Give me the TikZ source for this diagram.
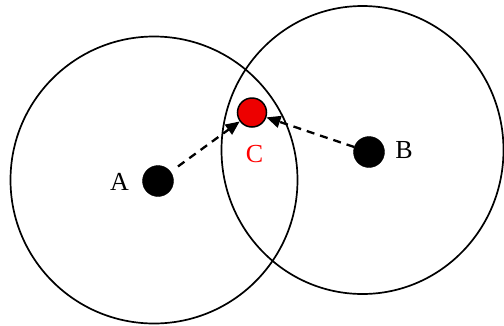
\documentclass[tikz,border=0pt]{standalone}
\usepackage{fontspec}
\setmainfont{Liberation Serif}
\usetikzlibrary{arrows.meta}
\begin{document}
\begin{tikzpicture}[x=1pt,y=-1pt,
  ring/.style={draw=black,line width=1.7pt},
  dot/.style={circle,fill=black,draw=black,inner sep=0pt,minimum size=31pt},
  reddot/.style={circle,fill=red!93!black,draw=black,line width=1.5pt,inner sep=0pt,minimum size=29pt},
  lbl/.style={font=\fontsize{26}{26}\selectfont,inner sep=0pt},
  conn/.style={line width=2.3pt,dash pattern=on 8pt off 6pt,-{Triangle[length=14pt,width=12pt]}}]
\useasboundingbox (0,0) rectangle (504,325);
\draw[ring] (154,180) circle[radius=143.5];
\draw[ring] (362.5,150) ellipse[x radius=141,y radius=144];
\node[dot] (A) at (158,181) {};
\node[dot] (B) at (369,152) {};
\node[reddot] (C) at (252,112.5) {};
\node[lbl] (la) at (119.5,182) {A};
\node[lbl] (lb) at (404,150) {B};
\node[lbl,text=red] (lc) at (254.5,154) {C};
\draw[conn,shorten <=9pt] (A) -- (C);
\draw[conn] (B) -- (C);
\end{tikzpicture}
\end{document}
